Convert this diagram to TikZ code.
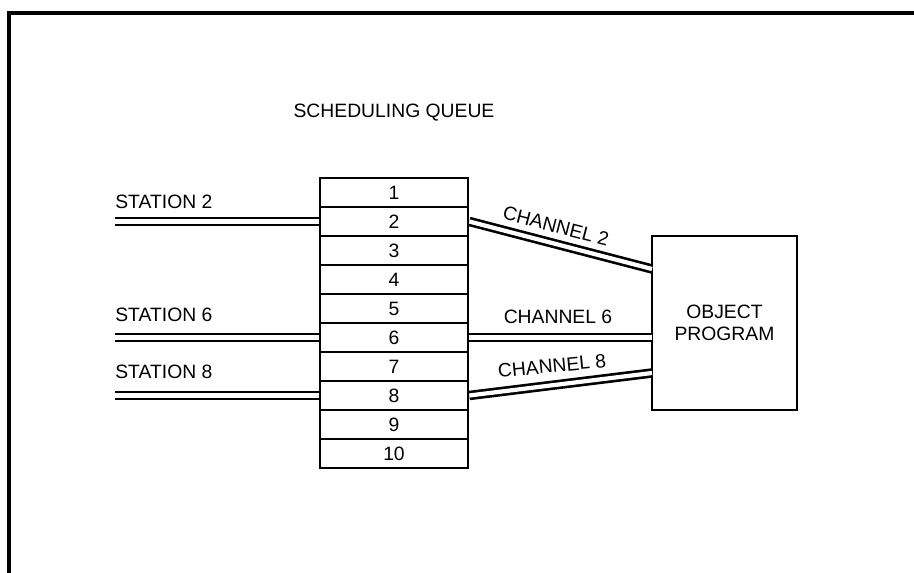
\documentclass[tikz,border=0pt]{standalone}
\usepackage{fontspec}
\setmainfont{Liberation Sans}
\begin{document}
\begin{tikzpicture}[x=0.02cm,y=-0.02cm,font=\fontsize{11}{12.5}\selectfont,qrow/.style={draw, line width=1.5pt, minimum width=2.96cm, minimum height=0.58cm, inner sep=0pt},objbox/.style={draw, line width=1.5pt, minimum width=2.9cm, minimum height=3.48cm, align=center, inner sep=0pt},dline/.style={double, line width=1.5pt, double distance=2.4pt},lbl/.style={inner sep=0pt}]
\useasboundingbox (0,0) rectangle (914,573);
\draw[line width=1.8pt] (9,573) |- (914,13);
\node[lbl] (title) at (394,113) {SCHEDULING QUEUE};
\foreach \i in {1,...,10} \node[qrow] (q\i) at (394,163.5+29*\i) {\i};
\node[objbox] (obj) at (724.5,323) {OBJECT\\PROGRAM};
\coordinate (st2) at (115,221.5);\coordinate (st6) at (115,337.5);\coordinate (st8) at (115,395.5);
\coordinate (c2) at (652,269);\coordinate (c6) at (652,337.5);\coordinate (c8) at (652,373);
\draw[dline] (st2) -- (q2.west);\draw[dline] (st6) -- (q6.west);\draw[dline] (st8) -- (q8.west);
\node[lbl, anchor=west] (l2) at (115,202) {STATION 2};\node[lbl, anchor=west] (l6) at (115,315) {STATION 6};\node[lbl, anchor=west] (l8) at (115,372) {STATION 8};
\draw[dline] (q2.east) -- (c2);\draw[dline] (q6.east) -- (c6);\draw[dline] (q8.east) -- (c8);
\node[lbl, rotate=-14.5] (ch2) at (556,226) {CHANNEL 2};\node[lbl] (ch6) at (558,317) {CHANNEL 6};\node[lbl, rotate=5.5] (ch8) at (552,366) {CHANNEL 8};
\end{tikzpicture}
\end{document}
